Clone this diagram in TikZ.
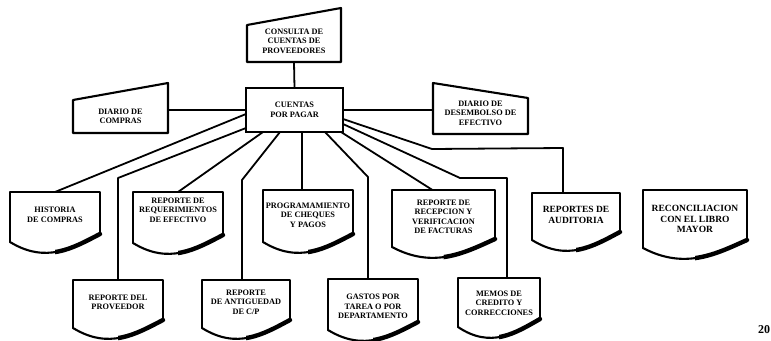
\documentclass[tikz,border=0pt]{standalone}
\usepackage{fontspec}
\setmainfont{Liberation Serif}
\usetikzlibrary{calc}

\tikzset{
  lbl/.style={font=\fontsize{8.3}{9.5}\selectfont\bfseries, align=center, inner sep=1pt, outer sep=0pt},
  bigl/.style={font=\fontsize{9.5}{10.5}\selectfont\bfseries},
  box/.style 2 args={minimum width=#1pt, minimum height=#2pt, anchor=north west},
  outline/.style={line width=2.1pt, line join=round, line cap=round},
  shadowline/.style={line width=4.4pt, line cap=round},
  link/.style={line width=1.8pt, line join=round},
}

% document symbol: straight top and sides, wavy bottom with a heavy right half
\newcommand\docoutline[2]{%
  \draw[outline] ($(#1.south west)+(0,#2)$) -- (#1.north west) -- (#1.north east) -- ($(#1.south east)+(0,#2-8)$);
  \draw[outline] ($(#1.south west)+(0,#2)$)
    .. controls ($(#1.south west)!0.4!(#1.south east)+(0,#2+22)$)
    and ($(#1.south west)!0.7!(#1.south east)+(0,#2+6)$)
    .. ($(#1.south east)+(0,#2-8)$);
  \begin{scope}
    \clip ($(#1.south)+(0,-40)$) rectangle ($(#1.south east)+(8,40)$);
    \draw[shadowline] ($(#1.south west)+(0,#2)$)
      .. controls ($(#1.south west)!0.4!(#1.south east)+(0,#2+22)$)
      and ($(#1.south west)!0.7!(#1.south east)+(0,#2+6)$)
      .. ($(#1.south east)+(0,#2-8)$);
  \end{scope}}

% manual input symbol: slanted top edge
\newcommand\manualoutline[4]{%
  \draw[outline] ($(#1.north west)+(0,#2)$) -- ($(#1.north east)+(0,#3)$)
    -- ($(#1.south east)+(0,#4)$) -- ($(#1.south west)+(0,#4)$) -- cycle;}

\begin{document}
\begin{tikzpicture}[x=1pt, y=-1pt]
\useasboundingbox (0,0) rectangle (771,340);

% central ledger and its neighbours
\node[lbl, box={94}{42}] (cons) at (247,20) {CONSULTA DE\\CUENTAS DE\\PROVEEDORES};
\node[lbl, draw, line width=2.3pt, box={97}{44}] (cpp) at (246,88) {CUENTAS\\POR PAGAR};
\node[lbl, box={95}{33}] (dcomp) at (73,100) {DIARIO DE\\COMPRAS};
\node[lbl, box={95}{42}] (ddes) at (433,92) {DIARIO DE\\DESEMBOLSO DE\\EFECTIVO};

\manualoutline{cons}{5}{-12}{0}
\manualoutline{dcomp}{0}{-17}{0}
\manualoutline{ddes}{-9}{6}{0}

% reports, first row
\node[lbl, box={90}{46}] (hist) at (10,192) {HISTORIA\\DE COMPRAS};
\node[lbl, box={90}{36}] (req) at (133,192) {REPORTE DE\\REQUERIMIENTOS\\DE EFECTIVO};
\node[lbl, box={90}{50}] (prog) at (263,190) {PROGRAMAMIENTO\\DE CHEQUES\\Y PAGOS};
\node[lbl, box={103}{54}] (recep) at (392,190) {REPORTE DE\\RECEPCION Y\\VERIFICACION\\DE FACTURAS};
\node[lbl, bigl, box={88}{44}] (audit) at (532,193) {REPORTES DE\\AUDITORIA};
\node[lbl, bigl, box={104}{58}] (recon) at (643,190) {RECONCILIACION\\CON EL LIBRO\\MAYOR};

% reports, second row
\node[lbl, box={90}{45}] (prov) at (73,280) {REPORTE DEL\\PROVEEDOR};
\node[lbl, box={88}{44}] (antig) at (202,280) {REPORTE\\DE ANTIGUEDAD\\DE C/P};
\node[lbl, box={90}{55}] (gastos) at (328,279) {GASTOS POR\\TAREA O POR\\DEPARTAMENTO};
\node[lbl, box={82}{50}] (memos) at (458,278) {MEMOS DE\\CREDITO Y\\CORRECCIONES};

\docoutline{hist}{4}
\docoutline{req}{15}
\docoutline{prog}{2}
\docoutline{recep}{3}
\docoutline{audit}{3}
\docoutline{recon}{0}
\docoutline{prov}{3}
\docoutline{antig}{4}
\docoutline{gastos}{-4}
\docoutline{memos}{-1}

\node[font=\fontsize{12}{13}\selectfont\bfseries, inner sep=0pt] (pg) at (764,330) {20};

% connectors
\draw[link] (cons.south) -- (cpp.north);
\draw[link] (cpp.west) -- (cpp.west -| dcomp.east);
\draw[link] (cpp.east) -- (cpp.east -| ddes.west);

\draw[link] ($(cpp.south west)+(0,-18)$) -- (hist.north);
\draw[link] ($(cpp.south west)+(0,-4)$) -- ($(prov.north)+(0,-102)$) -- (prov.north);
\draw[link] ($(cpp.south west)+(17,0)$) -- (req.north);
\draw[link] ($(cpp.south west)+(34,0)$) -- ($(antig.north)+(-4,-100)$) -- ($(antig.north)+(-4,0)$);
\coordinate (progtop) at ($(prog.north)+(-6,0)$);
\draw[link] (progtop |- cpp.south) -- (progtop);
\draw[link] ($(cpp.south east)+(-18,0)$) -- ($(gastos.north)+(-5,-102)$) -- ($(gastos.north)+(-5,0)$);
\draw[link] ($(cpp.south east)+(-2,0)$) -- ($(recep.north)+(-11,0)$);
\coordinate (memtop) at ($(memos.north)+(8,0)$);
\draw[link] ($(cpp.east)+(0,14)$) -- ($(memtop)+(-47,-100)$) -- ($(memtop)+(0,-100)$) -- (memtop);
\coordinate (audtop) at ($(audit.north)+(-13,0)$);
\draw[link] ($(cpp.east)+(0,9)$) -- ($(audtop)+(-131,-44)$) -- ($(audtop)+(0,-45)$) -- (audtop);

\end{tikzpicture}
\end{document}
